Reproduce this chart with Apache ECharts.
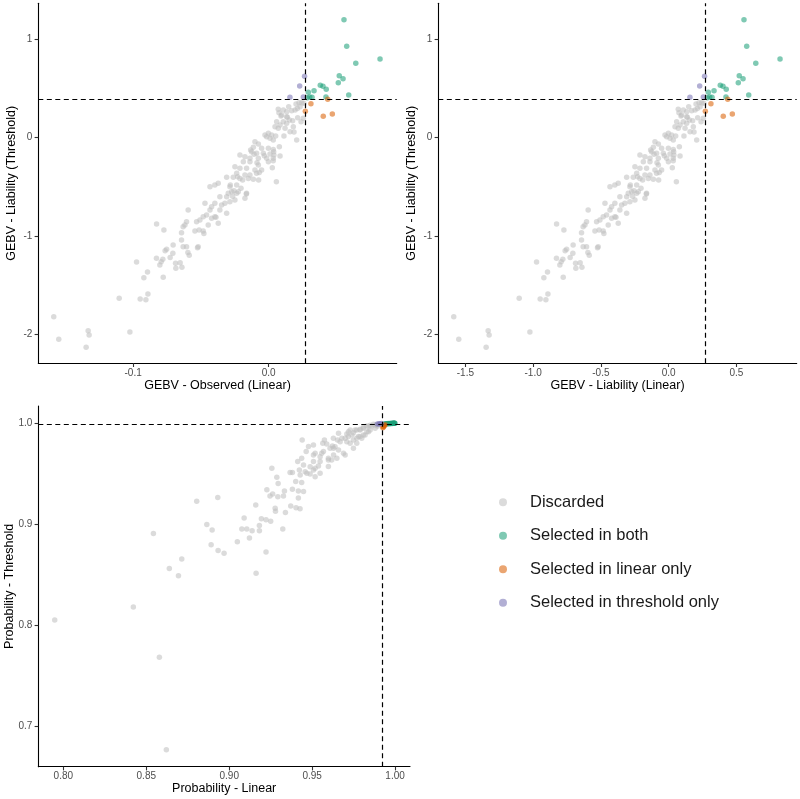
<!DOCTYPE html>
<html>
<head>
<meta charset="utf-8">
<script src="https://cdn.jsdelivr.net/npm/echarts@6/dist/echarts.min.js"></script>
<style>
  html, body { margin: 0; padding: 0; background: #fff; }
  #main { width: 800px; height: 799px; }
</style>
</head>
<body>
<div id="main"></div>
<script>
// GEBV of every candidate: [observed (linear), liability (linear), liability (threshold)]
const discarded = [
  [0.0224,0.224,0.356],[0.0202,0.202,0.342],[0.0071,0.071,0.288],[0.0108,0.108,0.281],[0.0133,0.133,0.264],
  [0.0170,0.170,0.275],[0.0096,0.096,0.231],[0.0133,0.133,0.214],[0.0153,0.153,0.180],[0.0177,0.177,0.173],
  [0.0059,0.059,0.163],[0.0108,0.108,0.163],[0.0084,0.084,0.129],[0.0133,0.133,0.146],[0.0047,0.047,0.112],
  [0.0071,0.071,0.095],[0.0121,0.121,0.095],[0.0182,0.182,0.112],[0.0158,0.158,0.061],[-0.0002,-0.002,0.044],
  [0.0022,0.022,0.027],[-0.0027,-0.027,0.027],[-0.0015,-0.015,0.010],[0.0010,0.010,-0.007],[0.0034,0.034,-0.024],
  [0.0207,0.207,-0.024],[-0.0101,-0.101,-0.041],[-0.0076,-0.076,-0.064],[-0.0113,-0.113,-0.098],[-0.0052,-0.052,-0.108],
  [-0.0002,-0.002,-0.108],[0.0034,0.034,-0.119],[0.0079,0.079,-0.092],[-0.0126,-0.126,-0.142],[-0.0089,-0.089,-0.159],
  [-0.0039,-0.039,-0.159],[0.0010,0.010,-0.166],[-0.0212,-0.212,-0.176],[-0.0175,-0.175,-0.193],[-0.0138,-0.138,-0.210],
  [-0.0076,-0.076,-0.210],[-0.0015,-0.015,-0.210],[0.0034,0.034,-0.210],[0.0084,0.084,-0.186],[-0.0187,-0.187,-0.244],
  [-0.0138,-0.138,-0.244],[-0.0076,-0.076,-0.278],[-0.0002,-0.002,-0.244],[0.0034,0.034,-0.234],[-0.0249,-0.249,-0.295],
  [-0.0212,-0.212,-0.312],[-0.0163,-0.163,-0.312],[-0.0101,-0.101,-0.329],[-0.0052,-0.052,-0.329],[-0.0236,-0.236,-0.363],
  [-0.0175,-0.175,-0.380],[-0.0138,-0.138,-0.380],[-0.0089,-0.089,-0.363],[-0.0310,-0.310,-0.403],[-0.0261,-0.261,-0.403],
  [-0.0212,-0.212,-0.414],[-0.0150,-0.150,-0.414],[-0.0113,-0.113,-0.424],
  [-0.0286,-0.286,-0.498],[-0.0372,-0.372,-0.464],[-0.0433,-0.433,-0.498],[-0.0397,-0.397,-0.481],[-0.0236,-0.236,-0.481],
  [-0.0224,-0.224,-0.549],[-0.0273,-0.273,-0.549],[-0.0298,-0.298,-0.566],[-0.0310,-0.310,-0.600],[-0.0249,-0.249,-0.634],
  [-0.0175,-0.175,-0.617],[-0.0163,-0.163,-0.566],[-0.0360,-0.360,-0.600],[-0.0323,-0.323,-0.668],[-0.0286,-0.286,-0.651],
  [-0.0347,-0.347,-0.685],[-0.0397,-0.397,-0.668],[-0.0470,-0.470,-0.668],[-0.0433,-0.433,-0.736],[-0.0421,-0.421,-0.702],
  [-0.0360,-0.360,-0.736],[-0.0310,-0.310,-0.769],[-0.0594,-0.594,-0.736],[-0.0458,-0.458,-0.786],[-0.0483,-0.483,-0.804],
  [-0.0507,-0.507,-0.837],[-0.0532,-0.532,-0.855],[-0.0421,-0.421,-0.820],[-0.0397,-0.397,-0.804],[-0.0372,-0.372,-0.871],
  [-0.0446,-0.446,-0.888],[-0.0606,-0.606,-0.855],[-0.0618,-0.618,-0.888],[-0.0827,-0.827,-0.878],[-0.0773,-0.773,-0.939],
  [-0.0631,-0.631,-0.905],[-0.0643,-0.643,-0.966],[-0.0544,-0.544,-0.949],[-0.0513,-0.513,-0.939],[-0.0483,-0.483,-0.949],
  [-0.0643,-0.643,-1.041],[-0.0705,-0.705,-1.092],[-0.0631,-0.631,-1.109],[-0.0606,-0.606,-1.109],[-0.0520,-0.520,-1.109],
  [-0.0753,-0.753,-1.136],
  [-0.1586,-1.586,-1.821],[-0.1549,-1.549,-2.051],[-0.1332,-1.332,-1.963],[-0.1325,-1.325,-2.007],[-0.1347,-1.347,-2.132],
  [-0.1024,-1.024,-1.977],[-0.1103,-1.103,-1.634],[-0.0948,-0.948,-1.641],[-0.0906,-0.906,-1.648],[-0.0891,-0.891,-1.590],
  [-0.0975,-0.975,-1.264],[-0.0921,-0.921,-1.424],[-0.0894,-0.894,-1.366],[-0.0778,-0.778,-1.420],[-0.0828,-0.828,-1.227],
  [-0.0793,-0.793,-1.261],[-0.0803,-0.803,-1.295],[-0.0781,-0.781,-1.237],[-0.0764,-0.764,-1.150],[-0.0727,-0.727,-1.220],
  [-0.0707,-0.707,-1.176],[-0.0687,-0.687,-1.278],[-0.0685,-0.685,-1.329],[-0.0653,-0.653,-1.271],[-0.0640,-0.640,-1.319],
  [-0.0596,-0.596,-1.169],[-0.0586,-0.586,-1.197],[-0.0525,-0.525,-1.119],
  [0.0057,0.057,-0.447],[0.0027,0.027,-0.305],[0.0256,0.256,0.197],[0.0239,0.239,0.163],[0.0187,0.187,0.058],
  [0.0232,0.232,0.315],[0.0148,0.148,0.315],[0.0260,0.260,0.350],[-0.0389,-0.389,-0.810],[-0.0478,-0.478,-0.975],
  [-0.0283,-0.283,-0.481],[-0.0266,-0.266,-0.597],[-0.0236,-0.236,-0.566],[-0.0256,-0.256,-0.539],[-0.0229,-0.229,-0.397],
  [-0.0204,-0.204,-0.515],[-0.0192,-0.192,-0.431],[-0.0165,-0.165,-0.573],[-0.0133,-0.133,-0.125],[-0.0108,-0.108,-0.169],
  [-0.0086,-0.086,-0.254],[-0.0069,-0.069,-0.353],[-0.0074,-0.074,-0.431],[-0.0032,-0.032,-0.183],[0.0039,0.039,-0.176],
  [0.0037,0.037,-0.142],[0.0052,0.052,0.017],[0.0091,0.091,0.220],[0.0076,0.076,0.254],[0.0113,0.113,0.017],
  [0.0138,0.138,0.207],[0.0195,0.195,0.281],[0.0214,0.214,0.203],[0.0212,0.212,0.298],[0.0244,0.244,0.356]
]
const selectedBoth = [
  [0.0556,0.556,1.200],[0.0576,0.576,0.930],[0.0643,0.643,0.757],[0.0822,0.822,0.801],[0.0521,0.521,0.631],
  [0.0549,0.549,0.600],[0.0514,0.514,0.560],[0.0381,0.381,0.533],[0.0401,0.401,0.523],[0.0425,0.425,0.492],
  [0.0335,0.335,0.478],[0.0293,0.293,0.462],[0.0591,0.591,0.434],[0.0423,0.423,0.414],[0.0303,0.303,0.414],
  [0.0320,0.320,0.411],[0.0285,0.285,0.407]
]
const linearOnly = [
  [0.0436,0.436,0.390],[0.0312,0.312,0.346],[0.0271,0.271,0.268],[0.0403,0.403,0.217],[0.0470,0.470,0.241]
]
const thresholdOnly = [
  [0.0265,0.265,0.624],[0.0229,0.229,0.526],[0.0157,0.157,0.411],[0.0256,0.256,0.414]
]

// probabilities: [linear, threshold]
const probDiscarded = [
  [0.7948,0.8051],[0.8422,0.8180],[0.8579,0.7681],[0.8621,0.6766],[0.8543,0.8907],[0.8639,0.8560],[0.8714,0.8655],
  [0.8694,0.8490],[0.8804,0.9227],[0.8931,0.9264],[0.8865,0.8996],[0.8897,0.8943],[0.8891,0.8795],[0.8933,0.8739],
  [0.8969,0.8712],[0.9049,0.8827],[0.9076,0.8952],[0.9106,0.8952],[0.9122,0.8863],[0.9138,0.8936],[0.9090,0.9061],
  [0.9160,0.9190],[0.9182,0.8986],[0.9182,0.8936],[0.9194,0.9055],[0.9222,0.9045],[0.9250,0.9029],[0.9222,0.8725],
  [0.9162,0.8513],[0.9323,0.8952],[0.9227,0.9342],[0.9246,0.9280],[0.9262,0.9300],[0.9293,0.9273],[0.9327,0.9280],
  [0.9295,0.9402],[0.9333,0.9329],[0.9277,0.9158],[0.9279,0.9128],[0.9339,0.9115],[0.9371,0.9181],[0.9403,0.9164],
  [0.9427,0.9154],[0.9417,0.9260],[0.9381,0.9346],[0.9417,0.9329],[0.9401,0.9422],[0.9437,0.9412],[0.9448,0.9323],
  [0.9257,0.9554],[0.9287,0.9465],[0.9367,0.9511],[0.9381,0.9511],[0.9413,0.9620],[0.9423,0.9537],[0.9437,0.9653],
  [0.9448,0.9587],[0.9440,0.9835],[0.9468,0.9504],[0.9458,0.9520],[0.9428,0.9488],[0.9478,0.9769],[0.9464,0.9719],
  [0.9508,0.9785],[0.9488,0.9570],[0.9518,0.9554],[0.9508,0.9620],[0.9508,0.9686],[0.9518,0.9703],[0.9508,0.9537],
  [0.9488,0.9498],[0.9518,0.9471],[0.9548,0.9504],[0.9538,0.9577],[0.9548,0.9620],[0.9548,0.9669],[0.9558,0.9703],
  [0.9568,0.9719],[0.9564,0.9802],[0.9574,0.9835],[0.9588,0.9795],[0.9598,0.9653],[0.9598,0.9571],[0.9598,0.9636],
  [0.9608,0.9752],[0.9618,0.9636],[0.9622,0.9775],[0.9628,0.9851],[0.9629,0.9686],[0.9629,0.9752],[0.9638,0.9768],
  [0.9649,0.9653],[0.9653,0.9835],[0.9659,0.9736],[0.9659,0.9901],[0.9669,0.9818],[0.9679,0.9851],[0.9689,0.9703],
  [0.9699,0.9686],[0.9699,0.9851],[0.9709,0.9894],[0.9709,0.9818],[0.9719,0.9868],[0.9719,0.9917],[0.9729,0.9802],
  [0.9729,0.9934],[0.9740,0.9884],[0.9749,0.9752],[0.9749,0.9835],[0.9749,0.9907],[0.9759,0.9934],[0.9769,0.9802],
  [0.9769,0.9851],[0.9769,0.9934],[0.9779,0.9868],[0.9789,0.9868],[0.9789,0.9934],[0.9789,0.9941],[0.9799,0.9851],
  [0.9809,0.9884],[0.9809,0.9950],[0.9809,0.9960],[0.9819,0.9884],[0.9830,0.9917],[0.9830,0.9974],[0.9840,0.9917],
  [0.9840,0.9967],[0.9850,0.9934],[0.9850,0.9980],[0.9860,0.9974],[0.9870,0.9990],[0.9880,0.9950],[0.9880,0.9983],
  [0.9891,0.9983],[0.9900,0.9985],[0.9895,0.9970]
]
const probBoth = [
  [0.9935,0.9993],[0.9942,0.9995],[0.9948,0.9994],[0.9953,0.9996],[0.9958,0.9997],[0.9963,0.9996],[0.9967,0.9998],
  [0.9972,0.9997],[0.9976,0.9998],[0.9980,0.9999],[0.9984,0.9998],[0.9987,0.9999],[0.9990,0.9999],[0.9993,1.0000],
  [0.9995,0.9999],[0.9997,1.0000],[0.9999,1.0000]
]
const probLinearOnly = [[0.9926,0.9955],[0.9929,0.9962],[0.9932,0.9970],[0.9936,0.9978],[0.9940,0.9984]]
const probThresholdOnly = [[0.9893,0.9992],[0.9903,0.9994],[0.9910,0.9996],[0.9918,0.9997]]

const groupNames = ['Discarded', 'Selected in both', 'Selected in linear only', 'Selected in threshold only']
const groupColors = ['rgba(190,190,190,0.7)', 'rgba(27,158,119,0.7)', 'rgba(217,95,2,0.7)', 'rgba(117,112,179,0.7)']

// selection cut-offs (dashed lines)
const cutObserved = 0.0268
const cutLiability = 0.268
const cutThreshold = 0.39
const cutProbLinear = 0.9924
const cutProbThreshold = 0.999

// tick labels
const obsTicks = [-0.1, 0]
const linTicks = [-1.5, -1, -0.5, 0, 0.5]
const thrTicks = [-2, -1, 0, 1]
const probLinTicks = [0.8, 0.85, 0.9, 0.95, 1.0]
const probThrTicks = [0.7, 0.8, 0.9, 1.0]

const font = "'Liberation Sans', Arial, sans-serif"

function valueAxis(isX, gridIndex, min, max, ticks, digits, name, nameGap) {
  return {
    type: 'value',
    gridIndex: gridIndex,
    min: min,
    max: max,
    name: name,
    nameLocation: 'middle',
    nameGap: nameGap,
    nameMoveOverlap: false, // gap is measured from the axis line
    nameTextStyle: { fontFamily: font, fontSize: 12.5, color: '#000' },
    splitLine: { show: false },
    axisLine: { show: true, onZero: false, lineStyle: { color: '#000', width: 1.1 } },
    axisTick: { show: true, length: 3.7, customValues: ticks, lineStyle: { color: '#333', width: 1.1 } },
    axisLabel: {
      customValues: ticks,
      margin: isX ? 5 : 6,
      color: '#4d4d4d',
      fontSize: 10,
      fontFamily: font,
      formatter: v => v.toFixed(digits)
    }
  }
}

function cutLines(xv, yv) {
  return {
    silent: true,
    symbol: 'none',
    precision: 5, // default 2 would round the cut-offs
    label: { show: false },
    lineStyle: { color: '#000', width: 1.2, type: [5, 3.5] },
    data: [{ xAxis: xv }, { yAxis: yv }]
  }
}

const groups = [discarded, selectedBoth, linearOnly, thresholdOnly]
const probGroups = [probDiscarded, probBoth, probLinearOnly, probThresholdOnly]
const cuts = [[cutObserved, cutThreshold], [cutLiability, cutThreshold], [cutProbLinear, cutProbThreshold]]

const series = []
for (let panel = 0; panel < 3; panel++) {
  groups.forEach((g, i) => {
    let data
    if (panel === 0) data = g.map(p => [p[0], p[2]])
    else if (panel === 1) data = g.map(p => [p[1], p[2]])
    else data = probGroups[i]
    const s = {
      name: groupNames[i],
      type: 'scatter',
      xAxisIndex: panel,
      yAxisIndex: panel,
      symbolSize: 5.5,
      itemStyle: { color: groupColors[i] },
      data: data
    }
    // dashed lines go on the last layer of each panel
    if (i === 3) s.markLine = cutLines(cuts[panel][0], cuts[panel][1])
    series.push(s)
  })
}

const myChart = echarts.init(document.getElementById('main'))
const option = {
  animation: false,
  grid: [
    { left: 38.3, top: 3.3, width: 358.4, height: 360, outerBoundsMode: 'none' },
    { left: 438.3, top: 3.3, width: 358.4, height: 360, outerBoundsMode: 'none' },
    { left: 38.3, top: 406, width: 371.7, height: 360.7, outerBoundsMode: 'none' }
  ],
  xAxis: [
    valueAxis(true, 0, -0.170, 0.0945, obsTicks, 1, 'GEBV - Observed (Linear)', 15.5),
    valueAxis(true, 1, -1.70, 0.945, linTicks, 1, 'GEBV - Liability (Linear)', 15.5),
    valueAxis(true, 2, 0.7849, 1.009, probLinTicks, 2, 'Probability - Linear', 15.5)
  ],
  yAxis: [
    valueAxis(false, 0, -2.295, 1.367, thrTicks, 0, 'GEBV - Liability (Threshold)', 20),
    valueAxis(false, 1, -2.295, 1.367, thrTicks, 0, 'GEBV - Liability (Threshold)', 20),
    valueAxis(false, 2, 0.6597, 1.0171, probThrTicks, 1, 'Probability - Threshold', 22)
  ],
  legend: {
    data: groupNames,
    orient: 'vertical',
    left: 499,
    top: 493.7,
    padding: 0,
    itemGap: 16.5,
    itemWidth: 8,
    itemHeight: 8,
    icon: 'circle',
    selectedMode: false,
    textStyle: { fontFamily: font, fontSize: 16.5, color: '#1a1a1a', lineHeight: 16, padding: [0, 0, 0, 18] }
  },
  series: series
}
myChart.setOption(option)
</script>
</body>
</html>
